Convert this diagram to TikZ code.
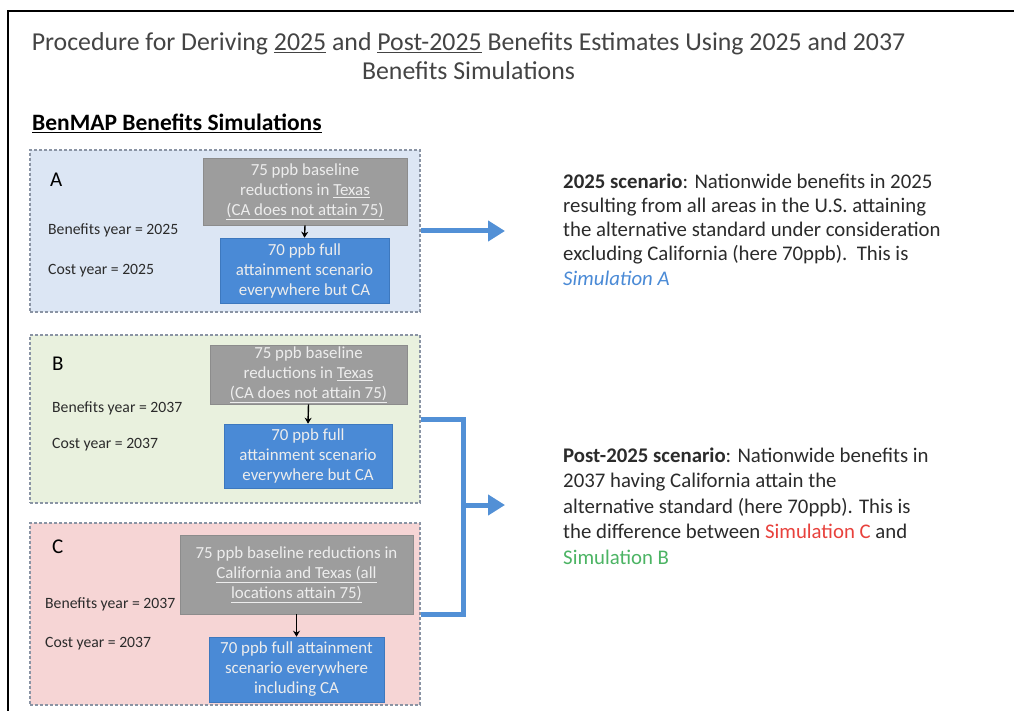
\documentclass[tikz,border=0pt]{standalone}
\usepackage{fontspec}
\setmainfont{Carlito}
\usetikzlibrary{arrows.meta}
\definecolor{panelA}{HTML}{DCE6F4}
\definecolor{panelB}{HTML}{E9F1DE}
\definecolor{panelC}{HTML}{F6D5D5}
\definecolor{panelborder}{HTML}{8A94A4}
\definecolor{grayfill}{HTML}{9D9D9D}
\definecolor{grayborder}{HTML}{8C8C8C}
\definecolor{bluefill}{HTML}{4A8AD6}
\definecolor{blueborder}{HTML}{3D78BE}
\definecolor{arrowblue}{HTML}{5290D6}
\definecolor{boxtext}{HTML}{EDEDED}
\definecolor{darktext}{HTML}{2B2B2B}
\definecolor{titletext}{HTML}{444444}
\definecolor{simblue}{HTML}{4A8AD6}
\definecolor{simred}{HTML}{E8413C}
\definecolor{simgreen}{HTML}{4CB464}
\begin{document}
\begin{tikzpicture}[x=1pt,y=-1pt,
  panel/.style={draw=panelborder, dash pattern=on 3pt off 2pt, line width=1.2pt, inner sep=0pt},
  graybox/.style={fill=grayfill, draw=grayborder, line width=0.6pt, text=boxtext, align=center,
    font=\fontsize{16.9}{20}\selectfont, inner sep=0pt},
  bluebox/.style={fill=bluefill, draw=blueborder, line width=0.6pt, text=boxtext, align=center,
    font=\fontsize{16.9}{20}\selectfont, inner sep=0pt},
  side/.style={font=\fontsize{15.7}{19}\selectfont, text=darktext, anchor=base west, inner sep=0pt},
  letter/.style={font=\fontsize{21}{25}\selectfont, text=black, anchor=base west, inner sep=0pt},
  smallarrow/.style={-{Stealth[length=6pt,width=7pt]}, line width=1.4pt, black},
  blueline/.style={draw=arrowblue, line width=5pt, line join=miter},
  bluearrow/.style={draw=arrowblue, line width=5pt, -{Triangle[length=17pt,width=20pt]}},
  titlefont/.style={font=\fontsize{25.8}{29}\selectfont, text=titletext, inner sep=0pt},
  para/.style={text=darktext, align=left, anchor=north west, inner sep=0pt}
]
\useasboundingbox (0,0) rectangle (1014,711);
\fill[white] (0,0) rectangle (1014,711);
% frame
\draw[line width=1.5pt, black] (1014,11) -- (8,11) -- (8,711);
% title
\node[titlefont, anchor=base] (t1) at (468.5,51) {Procedure for Deriving \underline{2025} and \underline{Post-2025} Benefits Estimates Using 2025 and 2037};
\node[titlefont, anchor=base] (t2) at (468.5,80) {Benefits Simulations};
\node[font=\fontsize{23.5}{28}\selectfont\bfseries, text=black, anchor=base west, inner sep=0pt] (head) at (32,131) {\underline{BenMAP Benefits Simulations}};
% panels
\node[panel, fill=panelA, minimum width=390pt, minimum height=162pt] (pA) at (225,231) {};
\node[panel, fill=panelB, minimum width=390pt, minimum height=168pt] (pB) at (225,419) {};
\node[panel, fill=panelC, minimum width=390pt, minimum height=182pt] (pC) at (225,614) {};
% panel A
\node[letter] (lA) at (50,187) {A};
\node[side] (byA) at (48,235) {Benefits year = 2025};
\node[side] (cyA) at (48,274) {Cost year = 2025};
\node[graybox, minimum width=204pt, minimum height=67pt] (gA) at (305,191.5) {75 ppb baseline\\reductions in \underline{Texas}\\\underline{(CA does not attain 75)}};
\node[bluebox, minimum width=169pt, minimum height=65pt] (bA) at (304.5,270.5) {70 ppb full\\attainment scenario\\everywhere but CA};
\draw[smallarrow] (gA.south) -- (bA.north);
% panel B
\node[letter] (lB) at (52,370) {B};
\node[side] (byB) at (52,412) {Benefits year = 2037};
\node[side] (cyB) at (52,448) {Cost year = 2037};
\node[graybox, minimum width=197pt, minimum height=59pt] (gB) at (308.5,374.5) {75 ppb baseline\\reductions in \underline{Texas}\\\underline{(CA does not attain 75)}};
\node[bluebox, minimum width=168pt, minimum height=64pt] (bB) at (308,456) {70 ppb full\\attainment scenario\\everywhere but CA};
\draw[smallarrow] (gB.south) -- (bB.north);
% panel C
\node[letter] (lC) at (52,553) {C};
\node[side] (byC) at (45,608) {Benefits year = 2037};
\node[side] (cyC) at (45,647) {Cost year = 2037};
\node[graybox, minimum width=233pt, minimum height=79pt] (gC) at (296.5,574.5) {75 ppb baseline reductions in\\\underline{California and Texas (all}\\\underline{locations attain 75)}};
\node[bluebox, minimum width=175pt, minimum height=65pt] (bC) at (296.5,669.5) {70 ppb full attainment\\scenario everywhere\\including CA};
\draw[smallarrow] (gC.south) -- (bC.north);
% connectors
\coordinate (tipA) at (505,231);
\draw[bluearrow] (pA.east) -- (tipA);
\draw[blueline] (pB.east) -- ++(43,0) |- (pC.east);
\coordinate (jn) at (463,505);
\coordinate (tipB) at (505,505);
\draw[bluearrow] (jn) -- (tipB);
% right texts
\node[para, font=\fontsize{20.8}{24.2}\selectfont] (r1) at (563,173.5) {\textbf{2025 scenario}: Nationwide benefits in 2025\\resulting from all areas in the U.S. attaining\\the alternative standard under consideration\\excluding California (here 70ppb).~~This is\\\textcolor{simblue}{\itshape Simulation A}};
\node[para, font=\fontsize{20.8}{25.5}\selectfont] (r2) at (563,447.5) {\textbf{Post-2025 scenario}: Nationwide benefits in\\2037 having California attain the\\alternative standard (here 70ppb). This is\\the difference between \textcolor{simred}{Simulation C} and\\\textcolor{simgreen}{Simulation B}};
\end{tikzpicture}
\end{document}
